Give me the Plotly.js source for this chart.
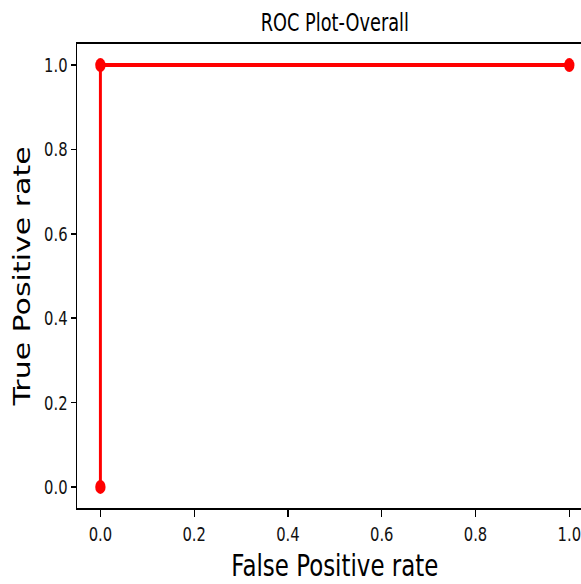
<!DOCTYPE html>
<html>
<head>
<meta charset="utf-8">
<script src="https://cdn.plot.ly/plotly-3.0.1.min.js"></script>
<style>
  html, body { margin: 0; padding: 0; overflow: hidden; background: #fff; }
  #wrap { width: 581px; height: 584px; overflow: hidden; position: relative; }
  /* reference image is horizontally compressed (~0.74); reproduce that */
  #chart { width: 801px; height: 584px; transform: scaleX(0.74); transform-origin: 0 0; }
</style>
</head>
<body>
<div id="wrap"><div id="chart"></div></div>
<script>
const fpr = [0, 0, 1];
const tpr = [0, 1, 1];
const tickVals = [0, 0.2, 0.4, 0.6, 0.8, 1.0];
const tickText = ["0.0", "0.2", "0.4", "0.6", "0.8", "1.0"];

const font = "DejaVu Sans, sans-serif";

const trace = {
  x: fpr,
  y: tpr,
  mode: "lines+markers",
  line: { color: "#ff0000", width: 4 },
  marker: { color: "#ff0000", size: 14 },
  cliponaxis: false,
  hoverinfo: "none"
};

const layout = {
  width: 801,
  height: 584,
  margin: { l: 104, r: 0, t: 44, b: 76, pad: 0 },
  paper_bgcolor: "#ffffff",
  plot_bgcolor: "#ffffff",
  showlegend: false,
  title: {
    text: "ROC Plot-Overall",
    font: { family: font, size: 24, color: "#000000" },
    x: 0.5, xref: "paper", xanchor: "center",
    y: 1 - 23 / 584, yref: "container", yanchor: "middle"
  },
  xaxis: {
    range: [-0.05, 1.05],
    tickvals: tickVals,
    ticktext: tickText,
    ticks: "outside",
    ticklen: 7,
    tickwidth: 1.6,
    tickcolor: "#000000",
    showline: true,
    linecolor: "#000000",
    linewidth: 1.6,
    mirror: true,
    showgrid: false,
    zeroline: false,
    tickfont: { family: font, size: 20, color: "#111111" },
    title: {
      text: "False Positive rate",
      font: { family: font, size: 31, color: "#000000" },
      standoff: 10
    },
    automargin: false
  },
  yaxis: {
    range: [-0.05, 1.05],
    tickvals: tickVals,
    ticktext: tickText,
    ticks: "outside",
    ticklen: 7,
    tickwidth: 1.6,
    tickcolor: "#000000",
    showline: true,
    linecolor: "#000000",
    linewidth: 1.6,
    mirror: true,
    showgrid: false,
    zeroline: false,
    tickfont: { family: font, size: 20, color: "#111111" },
    title: {
      text: "True Positive rate",
      font: { family: font, size: 30, color: "#000000" },
      standoff: 10
    },
    automargin: false
  }
};

Plotly.newPlot("chart", [trace], layout, { displayModeBar: false, staticPlot: true });
</script>
</body>
</html>
